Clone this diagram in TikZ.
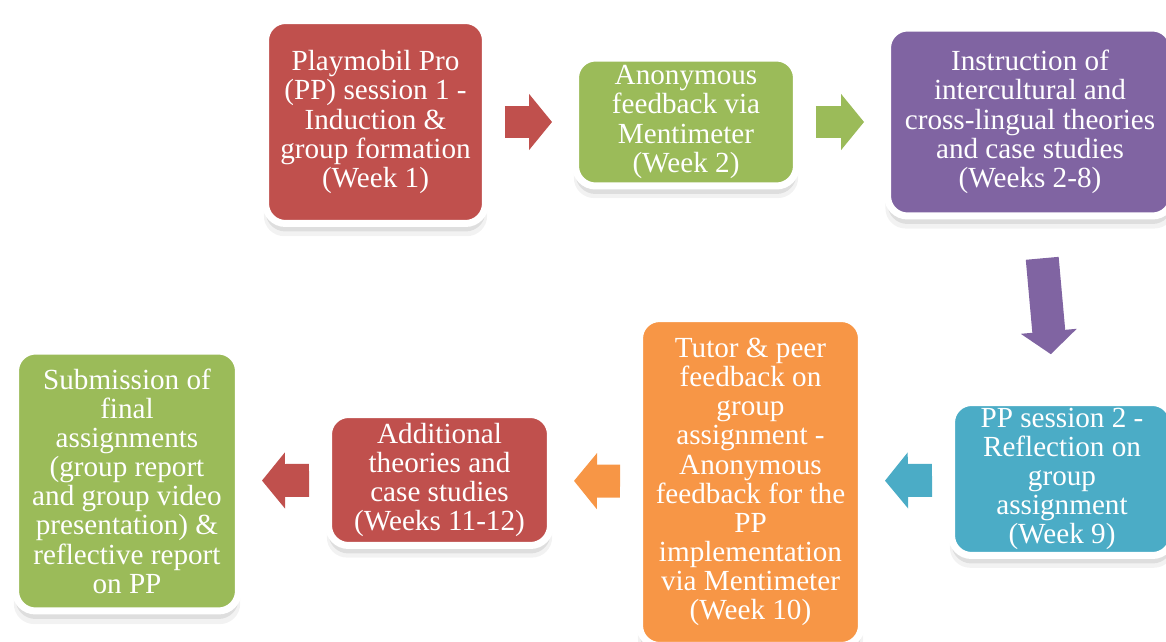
\documentclass[tikz,border=0pt]{standalone}
\usepackage{fontspec}
\setmainfont{Liberation Serif}
\usetikzlibrary{arrows.meta,shadows}
\definecolor{redbox}{HTML}{C0504D}
\definecolor{greenbox}{HTML}{9BBB59}
\definecolor{purplebox}{HTML}{8064A2}
\definecolor{tealbox}{HTML}{4BACC6}
\definecolor{orangebox}{HTML}{F79646}
\begin{document}
\begin{tikzpicture}[x=0.02cm,y=-0.02cm,
   box/.style={rounded corners=0.4cm,draw=white,line width=0.14cm,text=white,align=center,
     inner sep=0pt,font=\fontsize{16.6}{16.6}\selectfont,
     drop shadow={shadow xshift=0cm,shadow yshift=-0.22cm,shadow scale=1.015,opacity=0.1},
     drop shadow={shadow xshift=0cm,shadow yshift=-0.16cm,opacity=0.18}},
   flow/.style={line width=0.66cm,-{Triangle[length=0.46cm,width=1.1cm]},
     shorten <=0.32cm,shorten >=0.4cm}]
   \useasboundingbox (0,0) rectangle (1166,642);
   \clip (0,0) rectangle (1166,642);
   \node[box,fill=redbox,minimum width=4.40cm,minimum height=4.06cm] (pp1) at (375.5,122)
     {Playmobil Pro\\(PP) session 1 -\\Induction \&\\group formation\\(Week 1)};
   \node[box,fill=greenbox,minimum width=4.42cm,minimum height=2.56cm] (ment) at (686,122)
     {Anonymous\\feedback via\\Mentimeter\\(Week 2)};
   \node[box,fill=purplebox,minimum width=5.70cm,minimum height=3.76cm] (instr) at (1030,122)
     {Instruction of\\intercultural and\\cross-lingual theories\\and case studies\\(Weeks 2-8)};
   \node[box,fill=tealbox,minimum width=4.42cm,minimum height=3.06cm] (pp2) at (1062,479)
     {PP session 2 -\\Reflection on\\group\\assignment\\(Week 9)};
   \node[box,fill=orangebox,minimum width=4.44cm,minimum height=6.54cm] (tutor) at (750.5,482)
     {Tutor \& peer\\feedback on\\group\\assignment -\\Anonymous\\feedback for the\\PP\\implementation\\via Mentimeter\\(Week 10)};
   \node[box,fill=redbox,minimum width=4.44cm,minimum height=2.62cm] (addl) at (439.5,480)
     {Additional\\theories and\\case studies\\(Weeks 11-12)};
   \node[box,fill=greenbox,minimum width=4.46cm,minimum height=5.20cm] (subm) at (127,481)
     {Submission of\\final\\assignments\\(group report\\and group video\\presentation) \&\\reflective report\\on PP};
   \draw[flow,redbox] (pp1) -- (ment);
   \draw[flow,greenbox] (ment) -- (instr);
   \draw[flow,purplebox,shorten <=0.78cm,shorten >=0.9cm] (instr) -- (pp2);
   \draw[flow,tealbox] (pp2) -- (tutor);
   \draw[flow,orangebox] (tutor) -- (addl);
   \draw[flow,redbox] (addl) -- (subm);
\end{tikzpicture}
\end{document}
